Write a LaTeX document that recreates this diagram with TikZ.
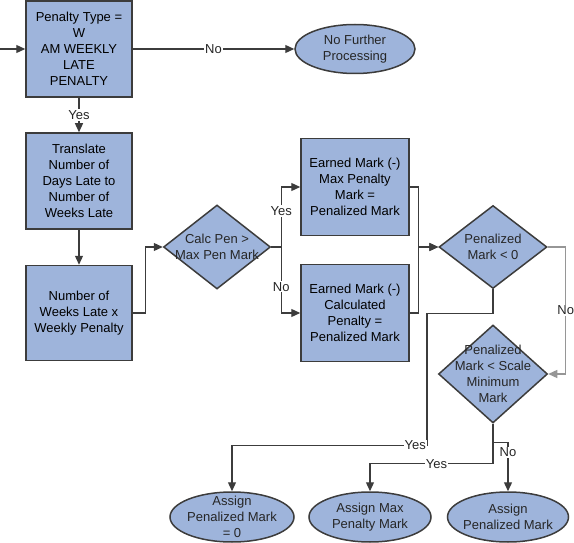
\documentclass[tikz,border=0pt]{standalone}
\usepackage{fontspec}
\setmainfont{Liberation Sans}
\usepackage{tikz}
\usetikzlibrary{arrows.meta,%
		positioning,%
		shapes,%
		shapes.geometric}

\definecolor{boxblue}{RGB}{158,180,219}
\definecolor{edge}{RGB}{60,60,60}
\definecolor{lightedge}{RGB}{150,150,150}

\tikzset{
  base/.style={draw=edge, fill=boxblue, line width=1.5pt},
  stepbox/.style={base, rectangle, minimum width=106pt, minimum height=96pt, inner sep=1pt, align=center},
  decision/.style={base, diamond, minimum width=108pt, minimum height=84pt, inner sep=0pt},
  endpoint/.style={base, ellipse, minimum width=122pt, minimum height=49pt, inner sep=0pt},
  txt/.style={align=center, inner sep=0pt, text=black!85},
  flow/.style={draw=edge, line width=1.3pt, -{Triangle[length=9pt,width=8pt]}},
  lbl/.style={fill=white, inner sep=1pt, text=black!85}
}

\begin{document}
\begin{tikzpicture}[x=1pt,y=-1pt,font=\fontsize{13}{16}\selectfont]
\useasboundingbox (0,0) rectangle (574,543);

\begin{scope}
\coordinate (start) at (0,49);

\node[stepbox] (type) at (79,49) {Penalty Type =\\W\\AM WEEKLY\\LATE\\PENALTY};
\node[endpoint, minimum width=120pt, label={[txt]center:{No Further\\Processing}}] (stop) at (355,49) {};
\node[stepbox] (trans) at (79,181) {Translate\\Number of\\Days Late to\\Number of\\Weeks Late};
\node[stepbox, minimum height=95pt] (weeks) at (79,313) {Number of\\Weeks Late x\\Weekly Penalty};
\node[decision, minimum width=107pt, label={[txt]center:{Calc Pen >\\Max Pen Mark}}] (calc) at (217,247) {};
\node[stepbox, minimum width=108pt, minimum height=97pt] (maxpen) at (355,187) {Earned Mark (-)\\Max Penalty\\Mark =\\Penalized Mark};
\node[stepbox, minimum width=108pt, minimum height=97pt] (calcpen) at (355,313) {Earned Mark (-)\\Calculated\\Penalty =\\Penalized Mark};
\node[decision, minimum height=83pt, label={[txt]center:{Penalized\\Mark < 0}}] (zero) at (493,247) {};
\node[decision, minimum width=109pt, minimum height=98pt, label={[txt]center:{Penalized\\Mark < Scale\\Minimum\\Mark}}] (scale) at (493,374) {};
\node[endpoint, minimum width=124pt, minimum height=50pt, label={[txt]center:{Assign\\Penalized Mark\\= 0}}] (azero) at (232,517) {};
\node[endpoint, minimum height=50pt, label={[txt]center:{Assign Max\\Penalty Mark}}] (amax) at (370,517) {};
\node[endpoint, minimum width=121pt, minimum height=50pt, label={[txt]center:{Assign\\Penalized Mark}}] (amark) at (508,517) {};
\end{scope}

\draw[flow] (start) -- (type);
\draw[flow] (type) -- node[lbl] {No} (stop);
\draw[flow] (type) -- node[lbl] {Yes} (trans);
\draw[flow] (trans) -- (weeks);
\draw[flow] (weeks.east) -- ++(13,0) |- (calc.west);
\draw[flow] (calc.east) -- ++(10,0) |- node[lbl, pos=0.3] {Yes} (maxpen.west);
\draw[flow] (calc.east) -- ++(10,0) |- node[lbl, pos=0.3] {No} (calcpen.west);
\draw[flow] (maxpen.east) -- ++(9,0) |- (zero.west);
\draw[flow] (calcpen.east) -- ++(9,0) |- (zero.west);
\draw[flow, draw=lightedge] (zero.east) -- ++(18,0) |- node[lbl, pos=0.25] {No} (scale.east);
\draw[flow] (zero.south) -- ++(0,24) -| ++(-66,132) -| node[lbl, pos=0.03] {Yes} (azero.north);
\draw[flow] (scale.south) -- ++(0,40) -| node[lbl, pos=0.23] {Yes} (amax.north);
\draw[flow] (scale.south) -- ++(0,19) -| node[lbl, pos=0.6] {No} (amark.north);

\end{tikzpicture}
\end{document}
